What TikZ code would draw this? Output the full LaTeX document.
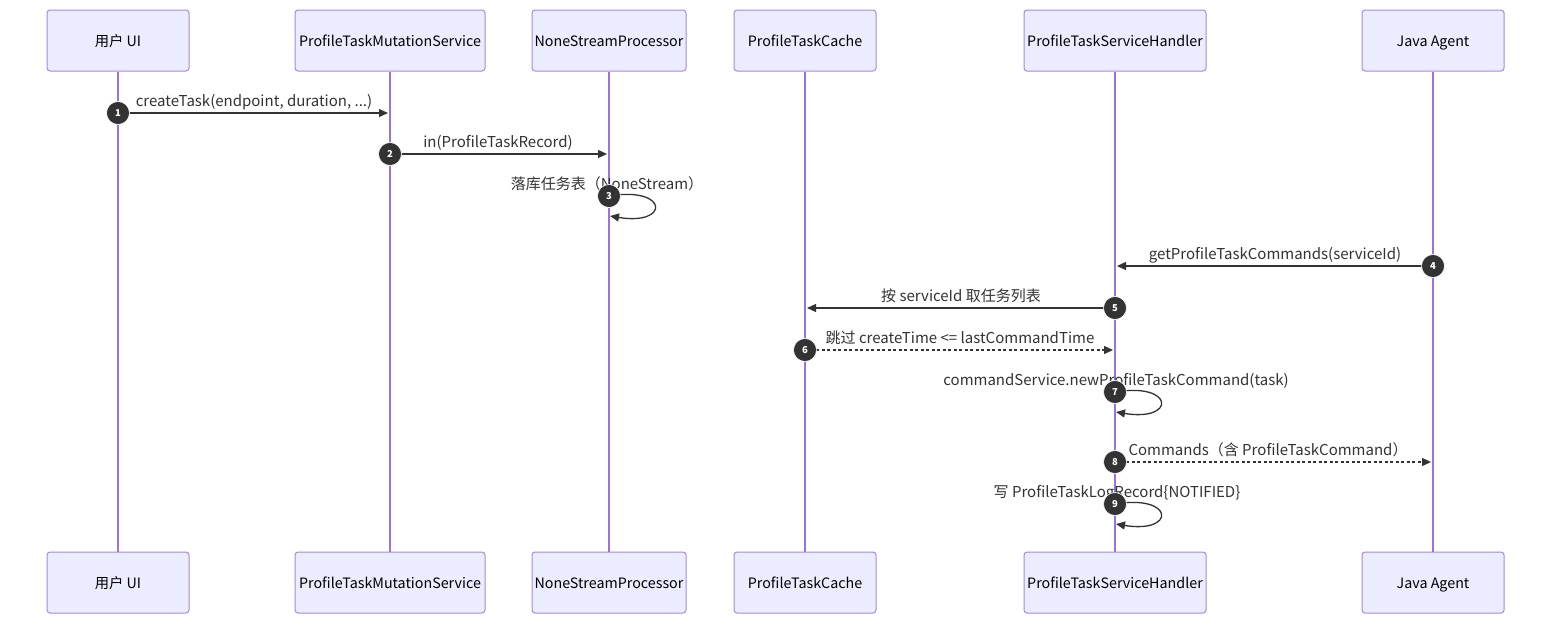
\documentclass[tikz,border=0pt]{standalone}
\usepackage{fontspec}
\setmainfont{Noto Sans CJK SC}
\usetikzlibrary{arrows.meta}
\definecolor{actfill}{HTML}{ECECFF}
\definecolor{actborder}{HTML}{A689E2}
\definecolor{life}{HTML}{9A74DE}
\definecolor{ink}{HTML}{333333}
\begin{document}
\begin{tikzpicture}[x=1pt,y=-1pt,
  actor/.style={draw=actborder, fill=actfill, rounded corners=3pt, line width=1pt,
    minimum height=61pt, inner sep=0pt, text=black, text height=12.5pt, text depth=1.5pt,
    font=\fontsize{14.3}{16}\selectfont},
  lifeline/.style={draw=life, line width=2pt},
  msg/.style={draw=ink, line width=1.3pt, -{Triangle[length=9pt,width=8pt]}},
  dmsg/.style={msg, dash pattern=on 3pt off 2.5pt},
  lbl/.style={font=\fontsize{15}{17}\selectfont, text=ink, inner sep=0pt,
    text height=13.5pt, text depth=1.5pt},
  num/.style={circle, fill=ink, draw=white, line width=0.6pt, minimum size=23pt, inner sep=0pt,
    text=white, font=\fontsize{9.5}{9.5}\selectfont\bfseries}]
\useasboundingbox (0,0) rectangle (1568,632);
\fill[white] (0,0) rectangle (1568,632);
% actors top
\node[actor, minimum width=142pt] (a1t) at (118,40.5) {用户 UI};
\node[actor, minimum width=190pt] (a2t) at (390,40.5) {ProfileTaskMutationService};
\node[actor, minimum width=154pt] (a3t) at (609,40.5) {NoneStreamProcessor};
\node[actor, minimum width=142pt] (a4t) at (805,40.5) {ProfileTaskCache};
\node[actor, minimum width=182pt] (a5t) at (1115,40.5) {ProfileTaskServiceHandler};
\node[actor, minimum width=142pt] (a6t) at (1433,40.5) {Java Agent};
% actors bottom
\node[actor, minimum width=142pt] (a1b) at (118,582.5) {用户 UI};
\node[actor, minimum width=190pt] (a2b) at (390,582.5) {ProfileTaskMutationService};
\node[actor, minimum width=154pt] (a3b) at (609,582.5) {NoneStreamProcessor};
\node[actor, minimum width=142pt] (a4b) at (805,582.5) {ProfileTaskCache};
\node[actor, minimum width=182pt] (a5b) at (1115,582.5) {ProfileTaskServiceHandler};
\node[actor, minimum width=142pt] (a6b) at (1433,582.5) {Java Agent};
% lifelines
\foreach \i in {1,...,6} {\draw[lifeline] (a\i t.south) -- (a\i b.north);}
% endpoints
\coordinate (e1) at (388,113);
\coordinate (e2) at (607,154);
\coordinate (r3) at (610,216);
\coordinate (e4) at (1117,266);
\coordinate (e5) at (807,308);
\coordinate (e6) at (1113,350);
\coordinate (r7) at (1116,412);
\coordinate (e8) at (1431,462);
\coordinate (r9) at (1116,524);
% number nodes
\node[num] (n1) at (118,113) {1};
\node[num] (n2) at (390,154) {2};
\node[num] (n3) at (609,196) {3};
\node[num] (n4) at (1433,266) {4};
\node[num] (n5) at (1115,308) {5};
\node[num] (n6) at (805,350) {6};
\node[num] (n7) at (1115,392) {7};
\node[num] (n8) at (1115,462) {8};
\node[num] (n9) at (1115,504) {9};
% messages
\draw[msg] (n1.center) -- (e1);
\node[lbl] at (254,100) {createTask(endpoint, duration, ...)};
\draw[msg] (n2.center) -- (e2);
\node[lbl] at (498,141) {in(ProfileTaskRecord)};
\draw[msg] (n3.center) .. controls +(60,-10) and +(60,10) .. (r3);
\node[lbl] at (607,183) {落库任务表（NoneStream）};
\draw[msg] (n4.center) -- (e4);
\node[lbl] at (1275,253) {getProfileTaskCommands(serviceId)};
\draw[msg] (n5.center) -- (e5);
\node[lbl] at (961,295) {按 serviceId 取任务列表};
\draw[dmsg] (n6.center) -- (e6);
\node[lbl] at (960,337) {跳过 createTime <= lastCommandTime};
\draw[msg] (n7.center) .. controls +(60,-10) and +(60,10) .. (r7);
\node[lbl] at (1116,379) {commandService.newProfileTaskCommand(task)};
\draw[dmsg] (n8.center) -- (e8);
\node[lbl] at (1268,449) {Commands（含 ProfileTaskCommand）};
\draw[msg] (n9.center) .. controls +(60,-10) and +(60,10) .. (r9);
\node[lbl] at (1117,491) {写 ProfileTaskLogRecord\{NOTIFIED\}};
% redraw numbers on top
\foreach \i/\x/\y in {1/118/113,2/390/154,3/609/196,4/1433/266,5/1115/308,6/805/350,7/1115/392,8/1115/462,9/1115/504}
  {\node[num] at (\x,\y) {\i};}
\end{tikzpicture}
\end{document}
